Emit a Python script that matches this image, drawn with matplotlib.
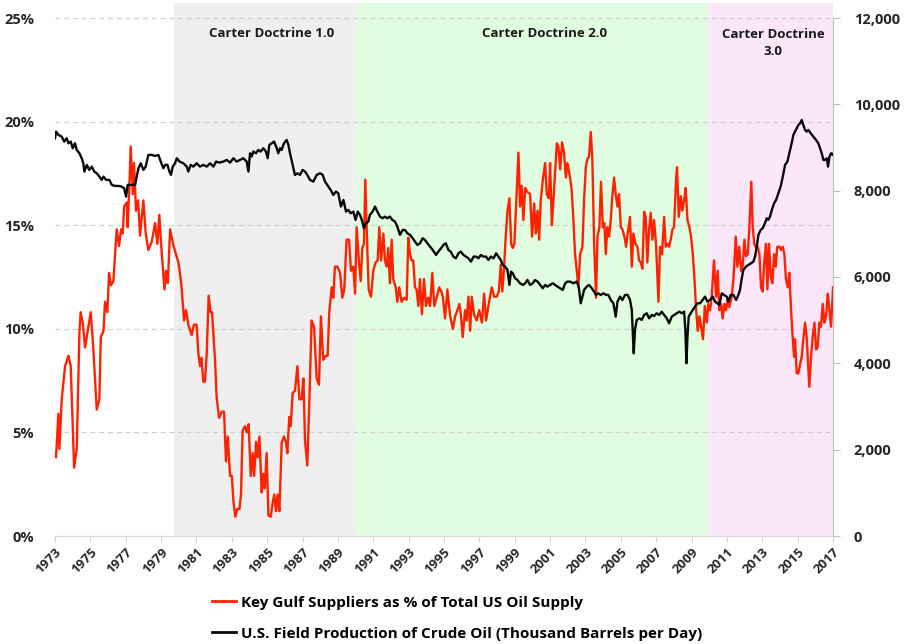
import matplotlib
matplotlib.use("Agg")
import matplotlib.pyplot as plt
from matplotlib.lines import Line2D
from matplotlib.ticker import FuncFormatter

# Key Gulf suppliers as % of total US oil supply (left axis)
gulf_years = [
    1973.00, 1973.06, 1973.19, 1973.25, 1973.38, 1973.57, 1973.76, 1973.89, 1974.08, 1974.23,
    1974.38, 1974.45, 1974.57, 1974.70, 1974.83, 1975.02, 1975.17, 1975.36, 1975.51, 1975.59,
    1975.74, 1975.83, 1975.96, 1976.06, 1976.17, 1976.30, 1976.49, 1976.62, 1976.74, 1976.83,
    1976.91, 1977.06, 1977.11, 1977.21, 1977.28, 1977.40, 1977.47, 1977.58, 1977.70, 1977.81,
    1978.00, 1978.13, 1978.28, 1978.47, 1978.66, 1978.79, 1978.90, 1979.00, 1979.19, 1979.28,
    1979.38, 1979.51, 1979.70, 1979.98, 1980.14, 1980.30, 1980.41, 1980.54, 1980.73, 1980.86,
    1981.01, 1981.11, 1981.20, 1981.28, 1981.39, 1981.48, 1981.58, 1981.69, 1981.80, 1981.88,
    1982.05, 1982.14, 1982.28, 1982.43, 1982.56, 1982.67, 1982.77, 1982.90, 1983.00, 1983.09,
    1983.20, 1983.31, 1983.43, 1983.52, 1983.61, 1983.75, 1983.84, 1983.95, 1984.07, 1984.18,
    1984.26, 1984.37, 1984.46, 1984.56, 1984.69, 1984.78, 1984.86, 1984.97, 1985.07, 1985.20,
    1985.31, 1985.40, 1985.50, 1985.59, 1985.69, 1985.82, 1985.95, 1986.07, 1986.14, 1986.25,
    1986.33, 1986.44, 1986.57, 1986.71, 1986.82, 1986.95, 1987.05, 1987.14, 1987.27, 1987.42,
    1987.51, 1987.65, 1987.80, 1987.93, 1988.04, 1988.17, 1988.32, 1988.42, 1988.51, 1988.65,
    1988.74, 1988.83, 1988.97, 1989.12, 1989.25, 1989.36, 1989.49, 1989.63, 1989.74, 1989.87,
    1989.97, 1990.06, 1990.19, 1990.29, 1990.38, 1990.47, 1990.55, 1990.66, 1990.74, 1990.87,
    1991.00, 1991.13, 1991.25, 1991.34, 1991.44, 1991.57, 1991.66, 1991.76, 1991.85, 1991.94,
    1992.04, 1992.13, 1992.27, 1992.36, 1992.47, 1992.60, 1992.74, 1992.89, 1992.98, 1993.08,
    1993.17, 1993.26, 1993.36, 1993.45, 1993.55, 1993.64, 1993.75, 1993.87, 1993.98, 1994.11,
    1994.21, 1994.34, 1994.45, 1994.58, 1994.73, 1994.85, 1994.93, 1995.06, 1995.19, 1995.35,
    1995.50, 1995.63, 1995.76, 1995.87, 1995.95, 1996.06, 1996.19, 1996.28, 1996.38, 1996.48,
    1996.57, 1996.70, 1996.85, 1996.99, 1997.14, 1997.27, 1997.38, 1997.51, 1997.70, 1997.83,
    1997.98, 1998.10, 1998.21, 1998.30, 1998.40, 1998.49, 1998.59, 1998.70, 1998.80, 1998.89,
    1998.98, 1999.10, 1999.21, 1999.30, 1999.40, 1999.49, 1999.59, 1999.72, 1999.87, 1999.98,
    2000.10, 2000.19, 2000.29, 2000.38, 2000.47, 2000.59, 2000.72, 2000.81, 2000.93, 2001.00,
    2001.10, 2001.19, 2001.28, 2001.38, 2001.47, 2001.57, 2001.68, 2001.79, 2001.89, 2001.98,
    2002.13, 2002.22, 2002.32, 2002.41, 2002.51, 2002.60, 2002.70, 2002.83, 2002.92, 2003.02,
    2003.11, 2003.20, 2003.30, 2003.39, 2003.49, 2003.60, 2003.68, 2003.79, 2003.88, 2003.98,
    2004.07, 2004.15, 2004.24, 2004.34, 2004.43, 2004.52, 2004.62, 2004.71, 2004.81, 2004.90,
    2005.00, 2005.09, 2005.20, 2005.30, 2005.39, 2005.52, 2005.62, 2005.71, 2005.83, 2005.94,
    2006.03, 2006.13, 2006.22, 2006.32, 2006.41, 2006.50, 2006.60, 2006.69, 2006.79, 2006.88,
    2006.99, 2007.13, 2007.22, 2007.33, 2007.45, 2007.54, 2007.64, 2007.73, 2007.82, 2007.92,
    2008.01, 2008.13, 2008.18, 2008.28, 2008.39, 2008.48, 2008.58, 2008.67, 2008.77, 2008.88,
    2008.97, 2009.07, 2009.16, 2009.26, 2009.35, 2009.45, 2009.56, 2009.65, 2009.75, 2009.86,
    2009.95, 2010.05, 2010.14, 2010.27, 2010.39, 2010.48, 2010.57, 2010.67, 2010.76, 2010.86,
    2010.95, 2011.04, 2011.14, 2011.27, 2011.37, 2011.50, 2011.59, 2011.70, 2011.80, 2011.89,
    2011.99, 2012.08, 2012.18, 2012.27, 2012.38, 2012.46, 2012.55, 2012.65, 2012.74, 2012.84,
    2012.93, 2013.02, 2013.12, 2013.21, 2013.29, 2013.38, 2013.48, 2013.57, 2013.67, 2013.76,
    2013.85, 2013.97, 2014.06, 2014.16, 2014.25, 2014.34, 2014.44, 2014.53, 2014.63, 2014.72,
    2014.80, 2014.85, 2014.95, 2015.04, 2015.14, 2015.23, 2015.32, 2015.42, 2015.51, 2015.61,
    2015.66, 2015.76, 2015.85, 2015.95, 2016.04, 2016.13, 2016.23, 2016.32, 2016.42, 2016.51,
    2016.61, 2016.70, 2016.80, 2016.89, 2016.98, 2017.00,
]
gulf_pct = [
    4.0, 3.8, 5.9, 4.2, 6.6, 8.2, 8.7, 8.2, 3.3, 4.2,
    9.8, 10.8, 10.3, 9.1, 9.8, 10.8, 9.0, 6.1, 6.6, 9.6,
    9.9, 11.3, 10.8, 12.7, 12.1, 12.3, 14.8, 14.0, 14.8, 14.6,
    15.9, 16.1, 14.9, 17.0, 18.8, 16.5, 18.0, 15.7, 16.2, 14.5,
    16.2, 14.6, 13.8, 14.2, 15.1, 14.1, 15.5, 14.1, 11.9, 12.8,
    12.2, 14.8, 14.0, 13.2, 12.2, 10.4, 10.9, 10.2, 9.7, 10.2,
    10.2, 8.8, 8.2, 8.6, 7.45, 7.45, 8.8, 11.6, 10.8, 10.8,
    8.5, 6.7, 5.7, 6.0, 6.0, 3.6, 4.8, 2.9, 2.9, 1.7,
    0.93, 1.3, 1.3, 2.0, 5.1, 5.3, 5.0, 5.4, 2.9, 4.0,
    2.9, 4.55, 3.8, 4.8, 2.1, 3.0, 2.3, 4.0, 1.0, 0.93,
    1.6, 2.0, 1.2, 2.0, 1.2, 4.5, 4.8, 4.5, 4.0, 5.75,
    5.3, 6.9, 7.0, 8.2, 6.6, 6.6, 7.6, 4.6, 3.4, 7.5,
    10.4, 10.1, 7.6, 7.3, 10.6, 8.5, 8.7, 8.7, 10.8, 12.0,
    11.5, 13.0, 13.0, 12.7, 11.5, 11.9, 14.3, 14.3, 12.8, 13.0,
    11.7, 14.9, 13.2, 12.3, 13.9, 14.1, 17.2, 13.9, 11.9, 11.55,
    12.8, 13.2, 13.3, 14.9, 13.3, 14.6, 13.3, 13.0, 13.9, 12.2,
    14.3, 12.4, 12.0, 11.3, 12.0, 11.3, 11.5, 11.4, 14.4, 13.6,
    13.3, 13.3, 12.0, 11.9, 11.1, 12.4, 10.7, 12.4, 11.1, 11.5,
    11.1, 12.7, 11.1, 11.5, 12.0, 11.8, 11.55, 10.5, 11.9, 10.6,
    10.0, 10.6, 10.9, 11.2, 10.7, 9.6, 10.9, 10.4, 11.55, 9.9,
    11.55, 10.7, 10.4, 10.9, 10.3, 11.7, 10.4, 11.1, 12.0, 11.55,
    11.55, 11.8, 13.1, 11.8, 13.0, 14.45, 15.7, 16.3, 14.1, 13.9,
    14.1, 16.4, 18.5, 15.9, 16.9, 15.25, 16.8, 16.6, 16.5, 14.45,
    16.05, 14.6, 15.7, 14.3, 16.2, 17.2, 18.0, 16.5, 16.3, 18.0,
    15.0, 16.2, 17.5, 18.95, 18.8, 17.7, 19.0, 18.5, 17.3, 18.0,
    17.3, 16.7, 15.25, 13.6, 12.8, 12.0, 13.6, 13.96, 16.2, 17.8,
    18.2, 18.3, 19.5, 18.2, 14.1, 11.5, 14.45, 14.9, 17.1, 14.9,
    15.1, 13.6, 14.9, 14.45, 15.25, 16.4, 17.3, 16.5, 15.9, 16.5,
    14.9, 14.8, 14.45, 13.96, 14.6, 15.4, 13.0, 14.6, 14.1, 13.96,
    13.3, 13.2, 12.9, 15.65, 15.4, 13.2, 14.8, 15.6, 14.3, 15.25,
    14.1, 11.3, 13.96, 13.6, 15.4, 13.96, 14.1, 13.96, 14.3, 14.8,
    14.9, 17.3, 17.8, 15.4, 16.4, 15.7, 16.2, 16.8, 15.25, 14.9,
    14.45, 13.6, 12.5, 10.9, 9.9, 10.6, 10.0, 9.5, 11.1, 10.3,
    11.2, 10.9, 11.55, 13.3, 11.55, 12.8, 10.9, 11.2, 10.5, 11.2,
    10.9, 11.4, 11.05, 11.55, 12.4, 14.45, 13.0, 13.96, 12.8, 13.0,
    14.3, 13.5, 13.6, 14.9, 17.1, 14.9, 14.1, 13.9, 13.96, 13.6,
    12.0, 11.8, 13.3, 14.1, 11.9, 14.1, 12.5, 12.2, 13.6, 13.0,
    13.96, 13.96, 13.8, 13.96, 13.6, 12.4, 12.0, 12.7, 10.9, 9.6,
    8.65, 9.5, 7.85, 7.85, 8.3, 8.65, 9.5, 10.3, 9.6, 8.0,
    7.2, 8.65, 9.6, 10.3, 9.0, 9.1, 10.3, 10.1, 11.2, 10.3,
    10.6, 11.7, 10.9, 10.1, 11.55, 12.0,
]

# U.S. field production of crude oil, thousand barrels per day (right axis)
prod_years = [
    1973.00, 1973.06, 1973.19, 1973.38, 1973.52, 1973.66, 1973.76, 1973.89, 1974.00, 1974.13,
    1974.23, 1974.38, 1974.51, 1974.60, 1974.66, 1974.80, 1974.94, 1975.08, 1975.22, 1975.36,
    1975.51, 1975.64, 1975.74, 1975.89, 1976.08, 1976.21, 1976.40, 1976.59, 1976.77, 1976.91,
    1977.02, 1977.11, 1977.25, 1977.40, 1977.53, 1977.62, 1977.72, 1977.85, 1978.00, 1978.13,
    1978.28, 1978.47, 1978.66, 1978.85, 1978.98, 1979.13, 1979.23, 1979.36, 1979.47, 1979.56,
    1979.66, 1979.79, 1979.89, 1980.04, 1980.26, 1980.45, 1980.54, 1980.67, 1980.82, 1981.01,
    1981.20, 1981.39, 1981.58, 1981.77, 1981.96, 1982.11, 1982.30, 1982.52, 1982.71, 1982.90,
    1983.09, 1983.27, 1983.46, 1983.65, 1983.84, 1983.94, 1984.03, 1984.12, 1984.22, 1984.37,
    1984.50, 1984.63, 1984.78, 1984.93, 1985.03, 1985.12, 1985.26, 1985.39, 1985.54, 1985.63,
    1985.73, 1985.82, 1985.95, 1986.10, 1986.20, 1986.29, 1986.42, 1986.57, 1986.71, 1986.86,
    1987.00, 1987.14, 1987.27, 1987.42, 1987.61, 1987.80, 1987.99, 1988.14, 1988.27, 1988.46,
    1988.59, 1988.74, 1988.89, 1989.02, 1989.17, 1989.31, 1989.46, 1989.59, 1989.72, 1989.87,
    1990.00, 1990.12, 1990.25, 1990.38, 1990.47, 1990.59, 1990.72, 1990.81, 1990.96, 1991.10,
    1991.23, 1991.38, 1991.53, 1991.66, 1991.79, 1991.94, 1992.08, 1992.23, 1992.36, 1992.51,
    1992.66, 1992.79, 1992.93, 1993.08, 1993.23, 1993.36, 1993.49, 1993.64, 1993.79, 1993.92,
    1994.06, 1994.21, 1994.36, 1994.55, 1994.68, 1994.83, 1994.97, 1995.10, 1995.25, 1995.38,
    1995.53, 1995.67, 1995.82, 1995.95, 1996.10, 1996.25, 1996.38, 1996.53, 1996.67, 1996.82,
    1996.95, 1997.08, 1997.23, 1997.38, 1997.51, 1997.65, 1997.80, 1997.95, 1998.08, 1998.21,
    1998.32, 1998.46, 1998.59, 1998.70, 1998.79, 1998.89, 1999.02, 1999.15, 1999.30, 1999.46,
    1999.59, 1999.72, 1999.87, 2000.02, 2000.15, 2000.29, 2000.44, 2000.59, 2000.72, 2000.85,
    2001.00, 2001.15, 2001.28, 2001.42, 2001.57, 2001.72, 2001.85, 2001.98, 2002.13, 2002.32,
    2002.51, 2002.62, 2002.73, 2002.83, 2002.92, 2003.07, 2003.20, 2003.36, 2003.49, 2003.60,
    2003.73, 2003.86, 2004.02, 2004.17, 2004.30, 2004.43, 2004.58, 2004.71, 2004.81, 2004.96,
    2005.09, 2005.24, 2005.39, 2005.52, 2005.62, 2005.67, 2005.73, 2005.80, 2005.90, 2006.05,
    2006.18, 2006.32, 2006.47, 2006.60, 2006.75, 2006.88, 2007.03, 2007.18, 2007.31, 2007.45,
    2007.60, 2007.73, 2007.88, 2008.01, 2008.16, 2008.31, 2008.45, 2008.58, 2008.65, 2008.71,
    2008.77, 2008.84, 2008.95, 2009.07, 2009.20, 2009.33, 2009.48, 2009.63, 2009.76, 2009.90,
    2010.05, 2010.20, 2010.33, 2010.46, 2010.57, 2010.71, 2010.84, 2010.99, 2011.08, 2011.21,
    2011.37, 2011.52, 2011.65, 2011.74, 2011.84, 2011.93, 2012.08, 2012.21, 2012.35, 2012.50,
    2012.59, 2012.69, 2012.78, 2012.91, 2013.02, 2013.15, 2013.25, 2013.34, 2013.44, 2013.54,
    2013.67, 2013.78, 2013.91, 2014.04, 2014.16, 2014.29, 2014.42, 2014.53, 2014.66, 2014.76,
    2014.85, 2014.95, 2015.04, 2015.14, 2015.23, 2015.32, 2015.42, 2015.51, 2015.61, 2015.74,
    2015.89, 2016.04, 2016.17, 2016.27, 2016.36, 2016.46, 2016.55, 2016.65, 2016.72, 2016.80,
    2016.89, 2016.98, 2017.00,
]
prod_kbd = [
    9214, 9369, 9291, 9253, 9137, 9214, 9098, 9137, 8983, 9098,
    8944, 8867, 8751, 8635, 8442, 8597, 8481, 8558, 8442, 8403,
    8326, 8249, 8326, 8249, 8249, 8133, 8110, 8110, 8094, 8056,
    7863, 8133, 8133, 8133, 8133, 8326, 8519, 8635, 8481, 8558,
    8828, 8828, 8805, 8828, 8674, 8519, 8597, 8597, 8442, 8365,
    8558, 8635, 8751, 8674, 8635, 8558, 8442, 8597, 8558, 8635,
    8558, 8597, 8558, 8635, 8558, 8674, 8650, 8674, 8712, 8650,
    8751, 8674, 8712, 8751, 8674, 8442, 8867, 8790, 8905, 8867,
    8944, 8905, 8983, 8905, 8751, 9060, 9098, 9137, 8983, 8867,
    8983, 8944, 9098, 9176, 9060, 8867, 8635, 8365, 8403, 8365,
    8481, 8442, 8365, 8249, 8210, 8365, 8403, 8365, 8210, 8094,
    8017, 7901, 7979, 7940, 7631, 7785, 7515, 7554, 7476, 7515,
    7322, 7515, 7438, 7284, 7129, 7245, 7284, 7438, 7515, 7631,
    7515, 7399, 7361, 7399, 7361, 7399, 7322, 7284, 7168, 6975,
    7090, 7090, 7013, 6975, 6897, 6820, 6743, 6781, 6897, 6859,
    6781, 6704, 6627, 6511, 6588, 6665, 6743, 6781, 6626, 6588,
    6472, 6433, 6549, 6588, 6511, 6472, 6433, 6356, 6472, 6472,
    6433, 6511, 6472, 6472, 6394, 6472, 6433, 6549, 6472, 6394,
    6279, 6240, 6163, 5816, 6124, 6086, 5970, 5931, 5854, 5816,
    5854, 5931, 5816, 5854, 5931, 5893, 5816, 5738, 5816, 5777,
    5816, 5854, 5816, 5777, 5738, 5700, 5854, 5893, 5893, 5854,
    5893, 5777, 5391, 5545, 5700, 5777, 5816, 5738, 5661, 5584,
    5622, 5584, 5622, 5584, 5584, 5468, 5391, 5082, 5429, 5545,
    5468, 5584, 5584, 5468, 5236, 4773, 4232, 4773, 5005, 5043,
    5005, 5120, 5159, 5043, 5120, 5097, 5159, 5120, 5198, 5120,
    5043, 4927, 5082, 5120, 5159, 5198, 5159, 5198, 4773, 4001,
    4618, 5082, 5159, 5236, 5313, 5391, 5391, 5468, 5545, 5429,
    5468, 5545, 5429, 5391, 5352, 5622, 5584, 5545, 5429, 5584,
    5584, 5468, 5584, 5700, 5970, 6163, 6240, 6279, 6317, 6356,
    6472, 6704, 6974, 7090, 7129, 7245, 7360, 7322, 7399, 7554,
    7708, 7785, 7940, 8094, 8326, 8596, 8673, 8866, 9098, 9291,
    9368, 9445, 9522, 9561, 9638, 9522, 9407, 9368, 9407, 9329,
    9252, 9175, 9098, 8982, 8866, 8711, 8711, 8750, 8557, 8789,
    8866, 8827, 8850,
]

# Shaded periods
periods = [(1979.73, 1990.02, "#efefef", "Carter Doctrine 1.0"),
           (1990.02, 2009.92, "#e1fde1", "Carter Doctrine 2.0"),
           (2009.92, 2017.0, "#fbe6fa", "Carter Doctrine\n3.0")]
label_x = [1985.27, 2000.66, 2013.6]

font = ["Liberation Sans Narrow", "Open Sans", "DejaVu Sans"]
plt.rcParams["font.family"] = font

fig = plt.figure(figsize=(9.1, 6.44), dpi=100)
ax = fig.add_axes([55 / 910, 1 - 536 / 644, 778 / 910, 533 / 644])
ax2 = ax.twinx()

top_pct = 25 * 533 / 518
ax.set_xlim(1973, 2017)
ax.set_ylim(0, top_pct)
ax2.set_ylim(0, 12000 * 533 / 518)

for (x0, x1, col, txt), lx in zip(periods, label_x):
    ax.axvspan(x0, x1, color=col, lw=0, zorder=0)
    ax.text(lx, 24.25 if "\n" not in txt else 23.8, txt, ha="center", va="center",
            fontsize=9.5, fontweight="bold", color="#1a1a1a", linespacing=1.45)

ax.plot(gulf_years, gulf_pct, color="#ff2200", lw=1.7, zorder=3)
ax2.plot(prod_years, prod_kbd, color="#0a0a0a", lw=1.7, zorder=3)

# left axis
ax.set_yticks([0, 5, 10, 15, 20, 25])
ax.yaxis.set_major_formatter(FuncFormatter(lambda v, p: f"{v:.0f}%"))
ax.grid(axis="y", color="#d0d0d0", ls=(0, (4, 3)), lw=0.9)
ax.set_axisbelow(True)
ax.tick_params(axis="y", length=0, pad=15, labelsize=10.5, labelcolor="#262626")
for lab in ax.get_yticklabels():
    lab.set_fontweight("bold")

# x axis
ax.set_xticks(list(range(1973, 2018, 2)))
ax.set_xticklabels([str(y) for y in range(1973, 2018, 2)], rotation=45, ha="right",
                   va="top", rotation_mode="anchor", fontsize=9.5, fontweight="bold",
                   color="#262626")
ax.tick_params(axis="x", length=4, color="#d0d0d0", pad=3)

# right axis
ax2.set_yticks(range(0, 12001, 2000))
ax2.yaxis.set_major_formatter(FuncFormatter(lambda v, p: f"{v:,.0f}"))
ax2.tick_params(axis="y", length=5, color="#bfbfbf", pad=10, labelsize=10.5, labelcolor="#262626")
for lab in ax2.get_yticklabels():
    lab.set_fontweight("bold")

for a in (ax, ax2):
    for s in ("top", "left"):
        a.spines[s].set_visible(False)
ax.spines["right"].set_visible(False)
ax2.spines["bottom"].set_visible(False)
ax.spines["bottom"].set_color("#d9d9d9")
ax2.spines["right"].set_color("#bfbfbf")
ax2.spines["right"].set_bounds(0, 12000)

handles = [Line2D([], [], color="#ff2200", lw=2),
           Line2D([], [], color="#0a0a0a", lw=2)]
labels = ["Key Gulf Suppliers as % of Total US Oil Supply",
          "U.S. Field Production of Crude Oil (Thousand Barrels per Day)"]
fig.legend(handles, labels, loc="upper left", bbox_to_anchor=(204 / 910, 1 - 588 / 644),
           frameon=False, handlelength=1.6, handletextpad=0.3, labelspacing=1.12,
           prop={"family": font, "size": 11, "weight": "bold"}, borderpad=0)

fig.savefig("out.png", dpi=100)
